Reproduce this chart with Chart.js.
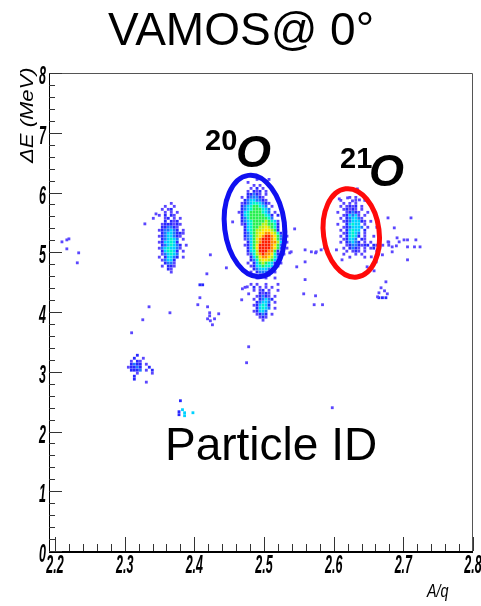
<!DOCTYPE html>
<html lang="en">
<head>
    <meta charset="UTF-8">
    <title>VAMOS@ 0° - Particle ID</title>
    <style>
        body {
            margin: 0;
            padding: 0;
            background-color: #ffffff;
        }

        canvas {
            display: block;
        }
    </style>
</head>
<body>
    <canvas id="pidChart" width="481" height="606"></canvas>

    <script src="https://cdn.jsdelivr.net/npm/chart.js"></script>
    <script>
        // Axis ticks
        const xTickLabels = ['2.2', '2.3', '2.4', '2.5', '2.6', '2.7', '2.8'];
        const yTickLabels = ['0', '1', '2', '3', '4', '5', '6', '7', '8'];

        // Histogram bin size (A/q, MeV)
        const binW = 0.0043;
        const binH = 0.05;

        // Count level -> colour (low to high)
        const levelKeys = ['1', '2', '3', '4', '5', '6', '7', '8', '9', 'r'];
        const levelColors = ['#5a46ff', '#2828ff', '#1e78ff', '#00d2ff', '#00f5c8',
                             '#28f050', '#b4f014', '#ffe600', '#ff8c00', '#ff1e00'];

        // Each blob: centre of its top-left bin, then rows of bin levels going down in dE
        const o20Origin = [2.4642, 6.219];
        const o20Rows = [
            '......1...1',
            '...1.....1',
            '.....1.1..1',
            '....1.2.1',
            '...1.212.1',
            '...22321.1',
            '.1.233321',
            '..23443321',
            '.1234554321',
            '.234566543.1',
            '.2345666543',
            '12456666543.1',
            '.24566666542.2',
            '.23566666653',
            '.2345666676541',
            '.1245666776652.1',
            '..245667787652',
            '..245677888762.1',
            '..2356788998752',
            '..2346789rr9863.1',
            '..134689rrr9863',
            '...24679rrr9974.1',
            '..12468rrrr9863',
            '...2468rrrr9863.1',
            '...2457rrr9962',
            '...13579r99852.1',
            '....24689987531',
            '....2357887642',
            '...1.24676542.1',
            '....1245655431',
            '.....2344432',
            '....1.23332.1',
            '.....1.2221',
            '......1..1..1'
        ];

        const low20Origin = [2.4728, 4.463];
        const low20Rows = [
            '..1.1..1...1',
            '1..2.1.1.1',
            '...1.12.1..1',
            '.....2121',
            '....12321.1',
            '...1.23432',
            '....23443.1',
            '...124542',
            '....24543.1',
            '...12443',
            '....1232.1',
            '.....121',
            '......1'
        ];

        const leftOrigin = [2.3411, 5.818];
        const leftRows = [
            '......1',
            '....1..1',
            '...1.12',
            '....1.1.1',
            '..1.2.21',
            '1...12.1.1',
            '....2.212',
            '...1222121',
            '...223321',
            '..1233432.1',
            '...23443221',
            '..12344321',
            '...234543.1',
            '..1244542',
            '...2345432.1',
            '..13454431',
            '...245542.1',
            '...134543',
            '..1.24432.1',
            '...13442',
            '....2331',
            '...1.221',
            '.....21',
            '......1'
        ];

        const o21Origin = [2.6017, 5.918];
        const o21Rows = [
            '.....1.1',
            '..1....1..1',
            '...1.1.1',
            '..1.1212.1',
            '...12121.1',
            '.1..12321..1',
            '...124341.1',
            '..1.234431',
            '...12344421.1',
            '.1..24544.1',
            '...1234443.1..1',
            '..1.24544.2',
            '...124543.1',
            '..1.24542.1..1',
            '...12443.21',
            '..1.23432.1.1.....1',
            '....12332122.2121.1',
            '...1.2321.1.12.2',
            '....1.121.1...1',
            '...1...1.1',
            '.....1....1'
        ];

        const low3Origin = [2.3053, 3.276];
        const low3Rows = [
            '...2',
            '..2..1',
            '.1.21',
            '.2322.1',
            '12232..2',
            '.2223.1.2',
            '...1....1',
            '..2',
            '..2',
            '......1'
        ];

        // Single scattered counts [A/q, dE]
        const strayCounts = [
            [2.210, 5.174], [2.217, 5.207], [2.220, 5.224], [2.217, 5.057], [2.234, 4.990], [2.232, 4.823],
            [2.329, 5.475], [2.345, 5.642], [2.335, 4.087], [2.326, 3.870], [2.310, 3.652],
            [2.408, 4.239], [2.405, 4.122], [2.419, 4.087], [2.422, 3.987], [2.435, 3.970],
            [2.422, 3.936], [2.429, 3.886], [2.419, 3.886], [2.423, 3.853], [2.426, 3.786],
            [2.365, 3.987], [2.446, 4.739], [2.418, 4.639], [2.423, 4.957], [2.455, 5.508],
            [2.469, 4.388], [2.476, 4.421], [2.468, 4.204], [2.478, 4.304], [2.478, 3.418], [2.475, 3.151],
            [2.544, 5.391], [2.537, 4.990], [2.547, 4.756],
            [2.539, 5.007], [2.559, 5.040], [2.568, 5.007], [2.574, 4.990], [2.559, 4.839],
            [2.559, 4.542], [2.557, 4.304], [2.574, 4.271], [2.572, 4.122], [2.584, 4.122],
            [2.634, 6.060], [2.608, 5.893], [2.620, 5.910], [2.627, 5.860], [2.637, 5.876], [2.648, 5.876],
            [2.678, 5.575], [2.711, 5.575], [2.687, 5.408], [2.691, 5.241], [2.694, 5.174],
            [2.701, 5.207], [2.706, 5.207], [2.718, 5.207], [2.678, 5.174], [2.684, 5.090],
            [2.690, 5.107], [2.706, 5.090], [2.716, 5.090], [2.724, 5.090], [2.684, 5.007],
            [2.670, 4.957], [2.706, 4.873], [2.654, 4.923], [2.661, 4.839], [2.648, 4.756],
            [2.658, 4.689], [2.575, 5.007], [2.582, 5.040], [2.587, 5.074], [2.604, 5.040], [2.612, 4.873],
            [2.675, 4.505], [2.668, 4.405], [2.673, 4.354], [2.665, 4.321], [2.677, 4.304],
            [2.663, 4.254], [2.598, 2.398]
        ];
        const strayDense = [
            [2.408, 4.455], [2.412, 4.455], [2.665, 4.239], [2.670, 4.239], [2.675, 4.239],
            [2.380, 2.515], [2.378, 2.331], [2.378, 2.281]
        ];
        const strayBright = [
            [2.383, 2.365], [2.386, 2.314], [2.398, 2.314], [2.386, 2.264]
        ];

        // Collect bins per level
        const binsByLevel = levelKeys.map(() => []);

        function addBlob(origin, rows) {
            rows.forEach((row, r) => {
                [...row].forEach((ch, c) => {
                    const lvl = levelKeys.indexOf(ch);
                    if (lvl < 0) return;
                    binsByLevel[lvl].push({ x: origin[0] + c * binW, y: origin[1] - r * binH });
                });
            });
        }

        addBlob(leftOrigin, leftRows);
        addBlob(low3Origin, low3Rows);
        addBlob(low20Origin, low20Rows);
        addBlob(o20Origin, o20Rows);
        addBlob(o21Origin, o21Rows);
        strayCounts.forEach(p => binsByLevel[0].push({ x: p[0], y: p[1] }));
        strayDense.forEach(p => binsByLevel[1].push({ x: p[0], y: p[1] }));
        strayBright.forEach(p => binsByLevel[3].push({ x: p[0], y: p[1] }));

        const datasets = binsByLevel.map((pts, i) => ({
            label: 'level ' + levelKeys[i],
            data: pts,
            backgroundColor: levelColors[i],
            pointStyle: 'rect',
            pointRadius: 2.0,
            pointHoverRadius: 2.0,
            pointBorderWidth: 0
        }));

        // Frame, inward ticks, labels and annotations drawn on top
        const rootFrame = {
            id: 'rootFrame',
            afterDraw(chart) {
                const ctx = chart.ctx;
                const xs = chart.scales.x;
                const ys = chart.scales.y;
                const area = chart.chartArea;

                ctx.save();

                // frame
                ctx.strokeStyle = '#555';
                ctx.lineWidth = 1;
                ctx.beginPath();
                ctx.moveTo(area.left, area.top + 0.5);
                ctx.lineTo(area.right - 0.5, area.top + 0.5);
                ctx.lineTo(area.right - 0.5, area.bottom);
                ctx.stroke();

                ctx.strokeStyle = '#000';
                ctx.beginPath();
                ctx.moveTo(area.left + 0.5, area.top);
                ctx.lineTo(area.left + 0.5, area.bottom + 1);
                ctx.stroke();
                ctx.lineWidth = 2;
                ctx.beginPath();
                ctx.moveTo(area.left, area.bottom + 1);
                ctx.lineTo(area.right, area.bottom + 1);
                ctx.stroke();

                // y ticks
                ctx.lineWidth = 1;
                ctx.strokeStyle = '#333';
                for (let i = 0; i <= 40; i++) {
                    const v = i * 0.2;
                    const py = Math.round(ys.getPixelForValue(v)) + 0.5;
                    const len = i % 5 === 0 ? 13 : 6;
                    ctx.beginPath();
                    ctx.moveTo(area.left, py);
                    ctx.lineTo(area.left + len, py);
                    ctx.stroke();
                }
                // x ticks
                for (let i = 0; i <= 30; i++) {
                    const v = 2.2 + i * 0.02;
                    const px = Math.round(xs.getPixelForValue(v)) + 0.5;
                    const len = i % 5 === 0 ? 14 : 7;
                    ctx.beginPath();
                    ctx.moveTo(px, area.bottom);
                    ctx.lineTo(px, area.bottom - len);
                    ctx.stroke();
                }

                // narrow tick labels
                ctx.fillStyle = '#000';
                ctx.font = 'italic bold 25px "Liberation Sans", Arial, sans-serif';
                ctx.textBaseline = 'alphabetic';
                const squeeze = (text, x, y, align, sx) => {
                    ctx.save();
                    ctx.translate(x, y);
                    ctx.scale(sx, 1);
                    ctx.textAlign = align;
                    ctx.fillText(text, 0, 0);
                    ctx.restore();
                };
                yTickLabels.forEach(t => {
                    squeeze(t, area.left - 3, ys.getPixelForValue(parseFloat(t)) + 11, 'right', 0.5);
                });
                xTickLabels.forEach(t => {
                    squeeze(t, xs.getPixelForValue(parseFloat(t)), area.bottom + 22, 'center', 0.5);
                });

                // axis titles
                ctx.font = 'italic 21px "Liberation Sans", Arial, sans-serif';
                ctx.save();
                ctx.translate(33, 163);
                ctx.rotate(-Math.PI / 2);
                ctx.scale(1.05, 0.9);
                ctx.textAlign = 'left';
                ctx.fillText('\u0394E (MeV)', 0, 0);
                ctx.restore();

                ctx.font = 'italic 18px "Liberation Sans", Arial, sans-serif';
                squeeze('A/q', 427, 597, 'left', 0.8);

                // gates around the oxygen blobs
                const ring = (cx, cy, rx, ry, rot, color) => {
                    const ex = xs.getPixelForValue(cx);
                    const ey = ys.getPixelForValue(cy);
                    const prx = Math.abs(xs.getPixelForValue(cx + rx) - ex);
                    const pry = Math.abs(ys.getPixelForValue(cy + ry) - ey);
                    ctx.beginPath();
                    ctx.ellipse(ex, ey, prx, pry, rot, 0, Math.PI * 2);
                    ctx.strokeStyle = color;
                    ctx.lineWidth = 5;
                    ctx.stroke();
                };
                ring(2.4864, 5.44, 0.043, 0.853, -0.12, '#1010f0');
                ring(2.6253, 5.324, 0.040, 0.744, -0.13, '#ff0a0a');

                // isotope labels
                ctx.fillStyle = '#000';
                ctx.textAlign = 'left';
                ctx.font = 'bold 29px "Liberation Sans", Arial, sans-serif';
                ctx.fillText('20', 205, 150);
                ctx.fillText('21', 340, 168);
                ctx.font = 'bold italic 45px "Liberation Sans", Arial, sans-serif';
                ctx.fillText('O', 236, 167);
                ctx.fillText('O', 369, 186);

                // titles
                ctx.font = '46px "Liberation Sans", Arial, sans-serif';
                ctx.textAlign = 'center';
                ctx.fillText('VAMOS@ 0\u00b0', 241, 45);
                ctx.textAlign = 'left';
                ctx.fillText('Particle ID', 165, 460);

                ctx.restore();
            }
        };

        const chart = new Chart(document.getElementById('pidChart').getContext('2d'), {
            type: 'scatter',
            data: { datasets: datasets },
            options: {
                responsive: false,
                animation: false,
                events: [],
                layout: {
                    padding: { left: 49, right: 8, top: 73, bottom: 55 }
                },
                plugins: {
                    legend: { display: false },
                    tooltip: { enabled: false }
                },
                scales: {
                    x: { type: 'linear', display: false, min: 2.1914, max: 2.8 },
                    y: { type: 'linear', display: false, min: 0, max: 8 }
                }
            },
            plugins: [rootFrame]
        });
    </script>
</body>
</html>
